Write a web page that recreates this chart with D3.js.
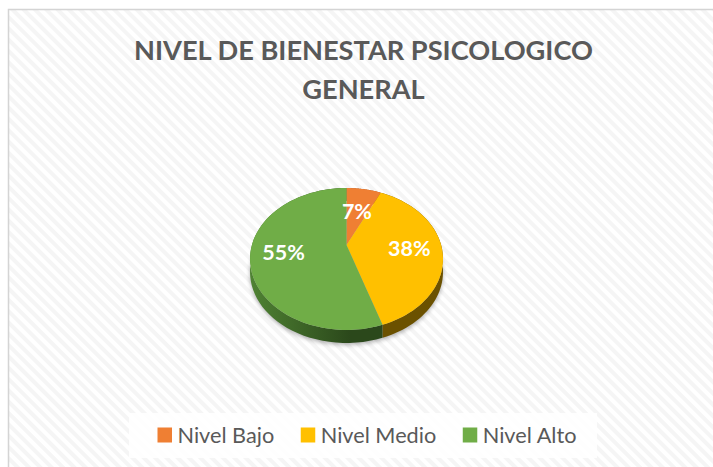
<!DOCTYPE html>
<meta charset="utf-8">
<style>
html, body { margin: 0; padding: 0; background: #fff; }
svg { display: block; }
text { font-family: Lato, sans-serif; }
</style>
<body>
<div id="chart"></div>
<script src="https://d3js.org/d3.v7.min.js"></script>
<script>
const width = 713, height = 467;

// chart data
const categories = ["Nivel Bajo", "Nivel Medio", "Nivel Alto"];
const values = [7, 38, 55];
const titleLines = ["NIVEL DE BIENESTAR PSICOLOGICO", "GENERAL"];

const color = d3.scaleOrdinal().domain(categories).range(["#ef7f33", "#ffc000", "#70ad47"]);

const svg = d3.select("#chart").append("svg")
	.attr("width", width)
	.attr("height", height);

const defs = svg.append("defs");

// background hatch
const hatch = defs.append("pattern")
	.attr("id", "hatch")
	.attr("width", 8)
	.attr("height", 8)
	.attr("patternUnits", "userSpaceOnUse")
	.attr("patternTransform", "rotate(-45)");
hatch.append("rect").attr("width", 8).attr("height", 8).attr("fill", "#fff");
hatch.append("rect").attr("width", 4).attr("height", 8).attr("fill", "#f5f5f5");

defs.append("filter").attr("id", "blur")
	.attr("x", "-20%").attr("y", "-20%").attr("width", "140%").attr("height", "140%")
	.append("feGaussianBlur").attr("stdDeviation", 2);

// side wall shading
const wallShade = [
	["#a5501c", "#a5501c"],
	["#7f6000", "#6b5100"],
	["#4f8233", "#2b481b"]
];
wallShade.forEach(function(s, i) {
	const g = defs.append("linearGradient")
		.attr("id", "wall" + i)
		.attr("gradientUnits", "userSpaceOnUse")
		.attr("x1", 250).attr("x2", 350).attr("y1", 0).attr("y2", 0);
	g.append("stop").attr("offset", 0).attr("stop-color", s[0]);
	g.append("stop").attr("offset", 1).attr("stop-color", s[1]);
});

svg.append("rect")
	.attr("x", 9).attr("y", 10)
	.attr("width", width - 9).attr("height", height - 10)
	.attr("fill", "url(#hatch)");
svg.append("path")
	.attr("d", `M8.5,${height}V9.5H${width}`)
	.attr("fill", "none")
	.attr("stroke", "#d4d4d4")
	.attr("stroke-width", 1.5);

// title
svg.append("g").selectAll("text")
	.data(titleLines)
	.enter().append("text")
	.attr("x", 363.5)
	.attr("y", function(d, i) { return 60 + i * 39; })
	.attr("text-anchor", "middle")
	.attr("font-size", 27.2)
	.attr("font-weight", 700)
	.attr("fill", "#595959")
	.text(function(d) { return d; });

// pie seen in perspective: the apex is not at the middle of the ellipse
const cx = 346.5, cy = 245, rx = 94.6, ry = 68.2, tilt = 0.197, depth = 13;

function project(angle, r) {
	const u = r * Math.sin(angle), v = -r * Math.cos(angle);
	const w = 1 - tilt * v;
	return [cx + rx * u / w, cy + ry * v / w];
}

const pie = d3.pie().sort(null);
const slices = pie(values);

function arcPoints(a0, a1) {
	return d3.range(0, 61).map(function(i) {
		return project(a0 + (a1 - a0) * i / 60, 1);
	});
}
const line = d3.line();

function wallPath(d) {
	const top = arcPoints(d.startAngle, d.endAngle);
	const bottom = top.map(function(p) { return [p[0], p[1] + depth]; }).reverse();
	return line(top.concat(bottom)) + "Z";
}

const pieG = svg.append("g");

// soft shadow under the pie
pieG.append("path")
	.attr("d", line(arcPoints(0, 2 * Math.PI).map(function(p) { return [p[0], p[1] + depth + 2]; })) + "Z")
	.attr("fill", "#000")
	.attr("opacity", 0.3)
	.attr("filter", "url(#blur)");

pieG.selectAll(".wall")
	.data(slices)
	.enter().append("path")
	.attr("class", "wall")
	.attr("d", wallPath)
	.attr("fill", function(d, i) { return "url(#wall" + i + ")"; });

pieG.selectAll(".slice")
	.data(slices)
	.enter().append("path")
	.attr("class", "slice")
	.attr("d", function(d) { return line([[cx, cy]].concat(arcPoints(d.startAngle, d.endAngle))) + "Z"; })
	.attr("fill", function(d, i) { return color(categories[i]); });

// data labels
const labelRadius = [0.56, 0.66, 0.66];
pieG.selectAll(".label")
	.data(slices)
	.enter().append("text")
	.attr("class", "label")
	.each(function(d, i) {
		const p = project((d.startAngle + d.endAngle) / 2, labelRadius[i]);
		d3.select(this).attr("x", p[0]).attr("y", p[1]);
	})
	.attr("dy", "0.36em")
	.attr("text-anchor", "middle")
	.attr("font-size", 21.5)
	.attr("font-weight", 700)
	.attr("fill", "#fff")
	.text(function(d) { return d.value + "%"; });

// legend
svg.append("rect")
	.attr("x", 129).attr("y", 413)
	.attr("width", 468).attr("height", 45)
	.attr("fill", "#fff")
	.attr("fill-opacity", 0.85);

const legend = svg.append("g");
let lx = 157.5;
categories.forEach(function(c) {
	legend.append("rect")
		.attr("x", lx).attr("y", 427.5)
		.attr("width", 14.5).attr("height", 15)
		.attr("fill", color(c));
	const t = legend.append("text")
		.attr("x", lx + 20).attr("y", 443)
		.attr("font-size", 21.7)
		.attr("fill", "#595959")
		.text(c);
	lx += 20 + t.node().getComputedTextLength() + 26.5;
});
</script>
</body>
